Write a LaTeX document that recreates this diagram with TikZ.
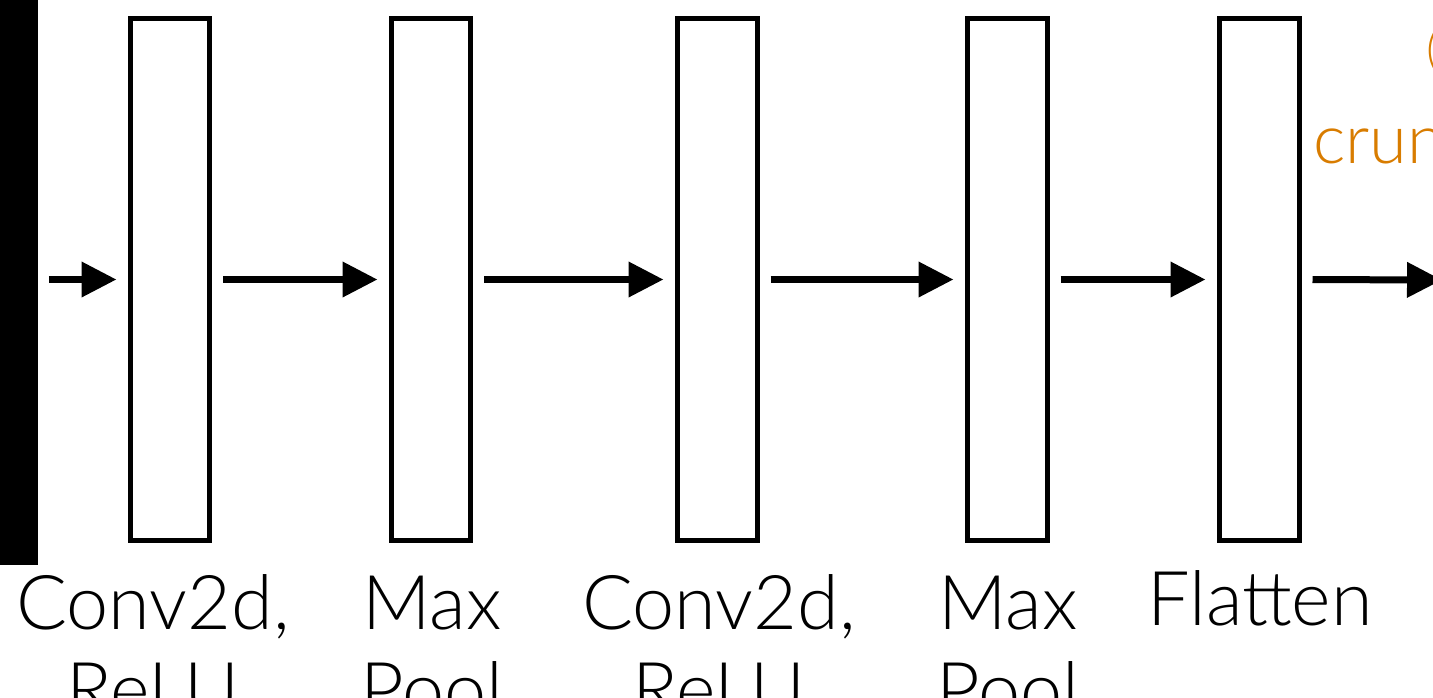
\documentclass[tikz,border=0pt]{standalone}
\usepackage{fontspec}
\setmainfont{Lato Light}
\usepackage{tikz}
\usetikzlibrary{
    arrows.meta,
    positioning
}
\definecolor{crunchorange}{RGB}{216,124,0}
\tikzstyle{flow} = [line width=0.14cm,-{Triangle[length=0.7cm,width=0.68cm]},shorten <=0.22cm,shorten >=0.22cm]

\begin{document}
\begin{tikzpicture}[
        x=0.02cm,
        y=-0.02cm,
        line cap=butt,
        line join=miter,
        layer/.style={draw,line width=0.1cm,minimum width=1.6cm,minimum height=10.44cm,inner sep=0pt},
        caption/.style={align=center,anchor=base,font=\fontsize{43}{49}\selectfont}
    ]

        \useasboundingbox (0,0) rectangle (1433,697);

        % input image (only its right edge is in view)
        \node[fill=black,outer sep=0pt,inner sep=0pt,minimum width=2cm,minimum height=13cm,anchor=south east]
            (input) at (38,565) {};

        % the five layers
        \node[layer] (conv1) at (170,279.5) {};
        \node[layer] (pool1) at (431,279.5) {};
        \node[layer] (conv2) at (717,279.5) {};
        \node[layer] (pool2) at (1007,279.5) {};
        \node[layer] (flat)  at (1259,279.5) {};

        % output arrow runs off to the right
        \coordinate (out) at (1442,280);

        % connections
        \draw[flow] (input.east |- conv1.west) -- (conv1.west);
        \draw[flow] (conv1.east) -- (pool1.west);
        \draw[flow] (pool1.east) -- (conv2.west);
        \draw[flow] (conv2.east) -- (pool2.west);
        \draw[flow] (pool2.east) -- (flat.west);
        \draw[flow,shorten >=0pt] (flat.east) -- (out);

        % layer names (base = baseline of the last line)
        \node[caption] (conv1-name) at (153,716)  {Conv2d,\\ReLU};
        \node[caption] (pool1-name) at (432,716)  {Max\\Pool};
        \node[caption] (conv2-name) at (719,716)  {Conv2d,\\ReLU};
        \node[caption] (pool2-name) at (1008,716) {Max\\Pool};
        \node[caption] (flat-name)  at (1260,625) {Flatten};

        % orange note at the top right
        \node[anchor=base west,inner sep=0pt,text=crunchorange,font=\fontsize{28}{34}\selectfont]
            (note-open) at (1426,66) {(};
        \node[anchor=base west,inner sep=0pt,text=crunchorange,font=\fontsize{39}{47}\selectfont]
            (note-crun) at (1313,163) {crun};

    \end{tikzpicture}
\end{document}
